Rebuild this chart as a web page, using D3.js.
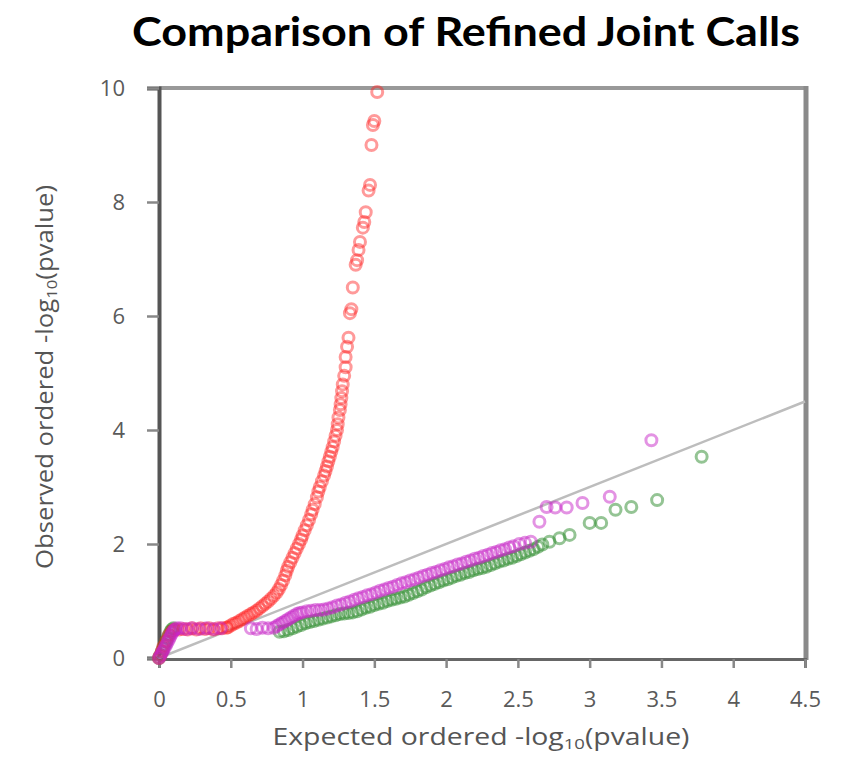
<!DOCTYPE html>
<html>
<head>
<meta charset="utf-8">
<script src="https://cdn.jsdelivr.net/npm/d3@7"></script>
<style>
  html, body { margin: 0; padding: 0; background: #fff; }
  svg { display: block; }
</style>
</head>
<body>
<svg id="chart" width="844" height="757"></svg>
<script>
// ---------- data ----------
const chartTitle = "Comparison of Refined Joint Calls";
const xTitleText = ["Expected ordered -log", "10", "(pvalue)"];
const yTitleText = ["Observed ordered -log", "10", "(pvalue)"];
const xTicks = [0, 0.5, 1, 1.5, 2, 2.5, 3, 3.5, 4, 4.5];
const xTickLabels = ["0", "0.5", "1", "1.5", "2", "2.5", "3", "3.5", "4", "4.5"];
const yTicks = [0, 2, 4, 6, 8, 10];
const yTickLabels = ["0", "2", "4", "6", "8", "10"];
const diagonal = [[0, 0], [4.5, 4.5]];

// series: [expected, observed]
const redSeries = [
  [0,0],[0.01,0.05],[0.02,0.12],[0.03,0.2],[0.05,0.3],[0.07,0.4],[0.09,0.47],[0.11,0.5],
  [0.14,0.5],[0.17,0.51],[0.2,0.5],[0.23,0.52],[0.26,0.5],[0.29,0.52],[0.32,0.51],[0.35,0.52],
  [0.38,0.5],[0.41,0.52],[0.44,0.52],[0.47,0.53],
  [0.48,0.54],[0.5,0.57],[0.52,0.6],[0.54,0.62],[0.56,0.65],[0.58,0.68],[0.6,0.71],[0.62,0.74],
  [0.64,0.77],[0.66,0.8],[0.68,0.83],[0.7,0.87],[0.72,0.91],[0.74,0.95],[0.76,0.99],[0.78,1.04],
  [0.8,1.09],[0.82,1.15],[0.835,1.21],[0.85,1.28],[0.865,1.36],[0.88,1.45],[0.89,1.53],[0.9,1.6],
  [0.915,1.68],[0.93,1.76],[0.945,1.84],[0.96,1.92],[0.975,2.0],[0.99,2.08],[1.0,2.15],[1.015,2.24],
  [1.03,2.33],[1.045,2.42],[1.06,2.52],[1.07,2.6],[1.085,2.7],[1.1,2.82],[1.11,2.92],[1.12,3.0],
  [1.135,3.1],[1.15,3.2],[1.16,3.28],[1.17,3.36],[1.18,3.45],[1.19,3.53],[1.2,3.62],[1.21,3.7],
  [1.22,3.8],[1.23,3.9],[1.24,4.0],[1.245,4.1],[1.25,4.22],[1.26,4.35],[1.265,4.45],[1.27,4.56],
  [1.275,4.68],[1.28,4.8],
  [1.29,4.95],[1.3,5.1],[1.3,5.28],[1.31,5.46],[1.32,5.62],[1.33,6.05],[1.34,6.12],[1.35,6.5],
  [1.37,6.9],[1.38,6.98],[1.39,7.16],[1.4,7.3],[1.42,7.55],[1.43,7.65],[1.44,7.82],[1.46,8.2],
  [1.47,8.3],[1.48,9.0],[1.49,9.35],[1.5,9.42],[1.52,9.93]
];

const magentaSeries = [
  [0,0],[0.01,0.04],[0.02,0.09],[0.03,0.13],[0.04,0.18],[0.05,0.23],[0.06,0.28],[0.07,0.33],
  [0.08,0.38],[0.09,0.43],[0.1,0.47],[0.11,0.5],[0.125,0.52],
  [0.15,0.52],[0.19,0.51],[0.23,0.52],[0.28,0.51],[0.33,0.52],[0.38,0.51],[0.43,0.52],
  [0.64,0.52],[0.68,0.51],[0.72,0.53],[0.76,0.52],[0.8,0.53],
  [0.82,0.56],[0.84,0.59],[0.86,0.62],[0.88,0.65],[0.9,0.68],[0.92,0.71],[0.94,0.74],[0.96,0.77],
  [0.98,0.79],[1.0,0.8],[1.03,0.82],[1.06,0.83],[1.09,0.84],[1.12,0.84],[1.15,0.85],[1.18,0.87],
  [1.21,0.89],[1.24,0.92],[1.27,0.94],[1.3,0.97],[1.33,0.99],[1.36,1.02],[1.39,1.05],[1.42,1.07],
  [1.45,1.1],[1.48,1.12],[1.51,1.15],[1.54,1.18],[1.57,1.2],[1.6,1.23],[1.63,1.25],[1.66,1.28],
  [1.69,1.31],[1.72,1.33],[1.75,1.36],[1.78,1.38],[1.81,1.41],[1.84,1.44],[1.87,1.46],[1.9,1.49],
  [1.93,1.51],[1.96,1.54],[1.99,1.56],[2.02,1.59],[2.05,1.61],[2.08,1.64],[2.11,1.66],[2.14,1.69],
  [2.17,1.71],[2.2,1.74],[2.23,1.76],[2.26,1.79],[2.29,1.81],[2.32,1.84],[2.35,1.86],[2.38,1.89],
  [2.41,1.91],[2.44,1.94],[2.47,1.96],[2.51,2.0],[2.55,2.02],[2.59,2.04],
  [2.65,2.39],[2.7,2.65],[2.76,2.64],[2.84,2.64],[2.95,2.72],[3.14,2.83],[3.43,3.82]
];

const greenSeries = [
  [0,0],[0.01,0.05],[0.02,0.11],[0.03,0.17],[0.04,0.23],[0.05,0.29],[0.06,0.35],[0.07,0.41],
  [0.08,0.46],[0.09,0.5],[0.1,0.52],
  [0.84,0.46],[0.87,0.47],[0.9,0.49],[0.93,0.52],[0.96,0.55],[0.99,0.58],[1.02,0.61],[1.05,0.63],
  [1.08,0.65],[1.11,0.67],[1.14,0.69],[1.17,0.71],[1.2,0.73],[1.23,0.75],[1.26,0.77],[1.29,0.78],
  [1.32,0.79],[1.35,0.8],[1.38,0.82],[1.41,0.85],[1.44,0.88],[1.47,0.9],[1.5,0.93],[1.53,0.95],
  [1.56,0.97],[1.59,1.0],[1.62,1.02],[1.65,1.04],[1.68,1.06],[1.71,1.08],[1.74,1.11],[1.77,1.14],
  [1.8,1.17],[1.83,1.2],[1.86,1.24],[1.89,1.27],[1.92,1.3],[1.95,1.33],[1.98,1.36],[2.01,1.38],
  [2.04,1.41],[2.07,1.44],[2.1,1.46],[2.13,1.49],[2.16,1.51],[2.19,1.54],[2.22,1.56],[2.25,1.58],
  [2.28,1.6],[2.31,1.63],[2.34,1.66],[2.37,1.69],[2.4,1.71],[2.43,1.74],[2.46,1.76],[2.49,1.79],
  [2.52,1.82],[2.55,1.85],[2.58,1.88],[2.61,1.91],[2.64,1.95],[2.67,1.99],[2.72,2.04],
  [2.79,2.1],[2.86,2.16],[3.0,2.37],[3.08,2.37],[3.18,2.6],[3.29,2.65],[3.47,2.77],[3.78,3.53]
];

// ---------- drawing ----------
const svg = d3.select("#chart");
const plotLeft = 159, plotRight = 805, plotTop = 88, plotBottom = 658;

const x = d3.scaleLinear().domain([0, 4.5]).range([plotLeft, plotRight]);
const y = d3.scaleLinear().domain([0, 10]).range([plotBottom, plotTop]);

// title
const title = svg.append("text")
  .attr("x", 466).attr("y", 46)
  .attr("text-anchor", "middle")
  .attr("font-family", "Lato, 'Open Sans', sans-serif")
  .attr("font-weight", "bold")
  .attr("font-size", 41)
  .attr("fill", "#000")
  .text(chartTitle);
const tw = title.node().getComputedTextLength();
if (Math.abs(tw - 668) > 4) title.attr("textLength", 668).attr("lengthAdjust", "spacingAndGlyphs");

// frame top and right
svg.append("line").attr("x1", plotLeft).attr("x2", plotRight + 2).attr("y1", plotTop).attr("y2", plotTop)
  .attr("stroke", "#999").attr("stroke-width", 4);
svg.append("line").attr("x1", plotRight + 1).attr("x2", plotRight + 1).attr("y1", plotTop - 2).attr("y2", plotBottom + 2)
  .attr("stroke", "#8a8a8a").attr("stroke-width", 5);

const tickFont = "'Open Sans', sans-serif";
// axes
const xAxis = d3.axisBottom(x).tickValues(xTicks)
  .tickFormat((d, i) => xTickLabels[i]).tickSize(9).tickPadding(23);
const gx = svg.append("g").attr("transform", `translate(0,${plotBottom + 1})`).call(xAxis);
gx.select(".domain").attr("stroke", "#666").attr("stroke-width", 3);
gx.selectAll(".tick line").attr("stroke", "#888").attr("stroke-width", 2.5);
gx.selectAll(".tick text").attr("font-family", tickFont).attr("font-size", 22).attr("fill", "#5a5a5a");

const yAxis = d3.axisLeft(y).tickValues(yTicks)
  .tickFormat((d, i) => yTickLabels[i]).tickSize(12).tickPadding(22);
const gy = svg.append("g").attr("transform", `translate(${plotLeft},0)`).call(yAxis);
gy.select(".domain").attr("stroke", "#555").attr("stroke-width", 4);
gy.selectAll(".tick line").attr("stroke", "#888").attr("stroke-width", 2.5);
gy.selectAll(".tick text").attr("font-family", tickFont).attr("font-size", 22).attr("fill", "#5a5a5a");

// axis titles
function axisTitle(parts, transform, targetWidth) {
  const t = svg.append("text").attr("transform", transform).attr("text-anchor", "middle")
    .attr("font-family", tickFont).attr("font-size", 23).attr("fill", "#555");
  t.append("tspan").text(parts[0]);
  t.append("tspan").attr("font-size", 15).attr("dy", 4).text(parts[1]);
  t.append("tspan").attr("dy", -4).text(parts[2]);
  const w = t.node().getComputedTextLength();
  if (Math.abs(w - targetWidth) > 3) t.attr("textLength", targetWidth).attr("lengthAdjust", "spacingAndGlyphs");
  return t;
}
axisTitle(xTitleText, "translate(481,745)", 417);
axisTitle(yTitleText, "translate(53,377) rotate(-90)", 384);

// diagonal reference line
svg.append("line")
  .attr("x1", x(diagonal[0][0])).attr("y1", y(diagonal[0][1]))
  .attr("x2", x(diagonal[1][0])).attr("y2", y(diagonal[1][1]))
  .attr("stroke", "#bdbdbd").attr("stroke-width", 2.5);

function drawSeries(data, color, opacity) {
  svg.append("g").selectAll("circle").data(data).join("circle")
    .attr("cx", d => x(d[0])).attr("cy", d => y(d[1])).attr("r", 5.5)
    .attr("fill", "none").attr("stroke", color)
    .attr("stroke-width", 3).attr("stroke-opacity", opacity);
}
drawSeries(greenSeries, "#2a8a2a", 0.5);
drawSeries(redSeries, "#ff2020", 0.45);
drawSeries(magentaSeries, "#c828c8", 0.5);
</script>
</body>
</html>
